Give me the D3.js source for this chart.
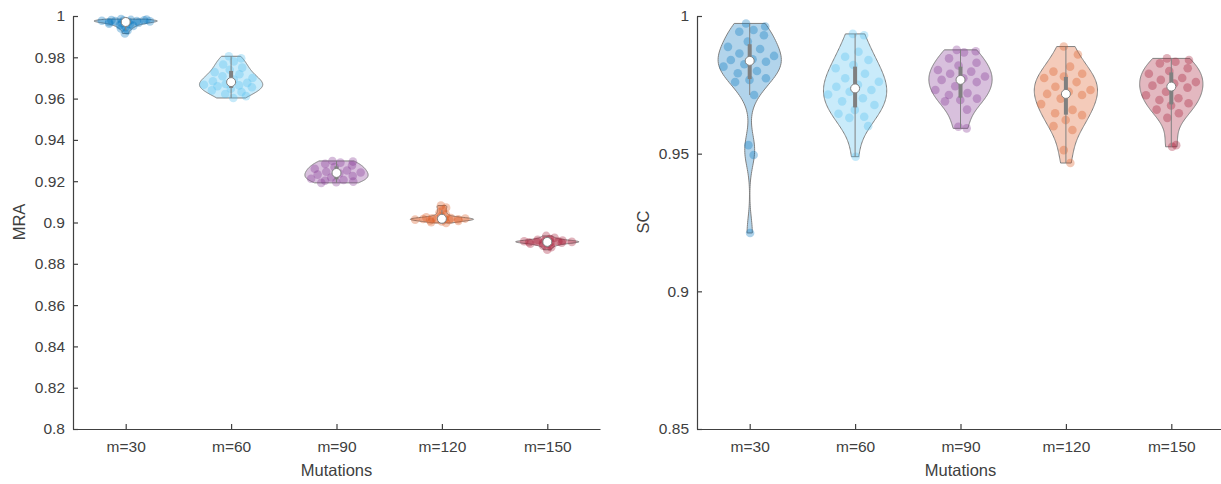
<!DOCTYPE html>
<html>
<head>
<meta charset="utf-8" />
<title>Violin plots</title>
<script src="https://d3js.org/d3.v7.min.js"></script>
<style type="text/css">
body { margin: 0; background: #fff; }
svg text { font-family: "Liberation Sans", Arial, sans-serif; fill: #404040; }
.axis path, .axis line { stroke: #404040; stroke-width: 1.2; }
.axis text { font-size: 15.5px; }
</style>
</head>
<body>
<div id="svg"></div>
<script type="text/javascript">
var width = 1221,
    height = 484;

var categories = ["m=30", "m=60", "m=90", "m=120", "m=150"];

// MRA per mutation count
var mra30 = [0.9985, 0.9983, 0.9981, 0.9980, 0.9979, 0.9978, 0.9977, 0.9976, 0.9975, 0.9974, 0.9972,
             0.9970, 0.9968, 0.9966, 0.9963, 0.9960, 0.9956, 0.9952, 0.9946, 0.9940, 0.9930, 0.9915];
var mra60 = [0.9805, 0.9795, 0.9780, 0.9765, 0.9750, 0.9740, 0.9728, 0.9718, 0.9708, 0.9700, 0.9692, 0.9684,
             0.9676, 0.9671, 0.9667, 0.9664, 0.9660, 0.9655, 0.9648, 0.9640, 0.9632, 0.9622, 0.9612, 0.9603];
var mra90 = [0.9298, 0.9295, 0.9290, 0.9284, 0.9276, 0.9268, 0.9260, 0.9252, 0.9246, 0.9242, 0.9238,
             0.9232, 0.9225, 0.9218, 0.9212, 0.9206, 0.9202, 0.9198, 0.9195, 0.9192];
var mra120 = [0.9082, 0.9072, 0.9060, 0.9048, 0.9038, 0.9030, 0.9025, 0.9022, 0.9020, 0.9019, 0.9018,
              0.9017, 0.9016, 0.9015, 0.9014, 0.9012, 0.9010, 0.9008, 0.9005, 0.9002, 0.8998];
var mra150 = [0.8935, 0.8926, 0.8920, 0.8916, 0.8913, 0.8911, 0.8909, 0.8908, 0.8907, 0.8906,
              0.8905, 0.8904, 0.8902, 0.8900, 0.8897, 0.8893, 0.8888, 0.8880, 0.8868];

// SC per mutation count
var sc30 = [0.9973, 0.9962, 0.9949, 0.9943, 0.9930, 0.9907, 0.9888, 0.9880, 0.9864, 0.9855, 0.9843, 0.9840,
            0.9834, 0.9825, 0.9816, 0.9800, 0.9792, 0.9774, 0.9768, 0.9760, 0.9713, 0.9531, 0.9495, 0.9212];
var sc60 = [0.9935, 0.9930, 0.9870, 0.9852, 0.9840, 0.9822, 0.9810, 0.9790, 0.9774, 0.9761, 0.9750, 0.9743,
            0.9731, 0.9725, 0.9715, 0.9701, 0.9690, 0.9677, 0.9659, 0.9645, 0.9634, 0.9630, 0.9600, 0.9489];
var sc90 = [0.9877, 0.9872, 0.9868, 0.9846, 0.9830, 0.9820, 0.9804, 0.9798, 0.9790, 0.9780, 0.9774, 0.9768,
            0.9760, 0.9745, 0.9731, 0.9720, 0.9713, 0.9700, 0.9695, 0.9690, 0.9660, 0.9598, 0.9592];
var sc120 = [0.9889, 0.9860, 0.9816, 0.9798, 0.9790, 0.9780, 0.9775, 0.9760, 0.9743, 0.9731, 0.9725, 0.9717,
             0.9713, 0.9700, 0.9680, 0.9659, 0.9647, 0.9640, 0.9622, 0.9600, 0.9586, 0.9513, 0.9466];
var sc150 = [0.9846, 0.9840, 0.9834, 0.9828, 0.9810, 0.9800, 0.9790, 0.9775, 0.9768, 0.9760, 0.9755, 0.9747,
             0.9740, 0.9725, 0.9712, 0.9701, 0.9695, 0.9683, 0.9675, 0.9660, 0.9647, 0.9630, 0.9531, 0.9525];

var mraTicks = [0.8, 0.82, 0.84, 0.86, 0.88, 0.9, 0.92, 0.94, 0.96, 0.98, 1];
var scTicks = [0.85, 0.9, 0.95, 1];

var colors = ["#0072BD", "#4DBEEE", "#7E2F8E", "#D95319", "#A2142F"];

var svg = d3.select("#svg")
    .append("svg")
    .attr("width", width)
    .attr("height", height);

// matlab style quantile
function quant(sorted, p) {
    var n = sorted.length;
    var pos = n * p + 0.5;
    if (pos <= 1) return sorted[0];
    if (pos >= n) return sorted[n - 1];
    var lo = Math.floor(pos);
    return sorted[lo - 1] + (pos - lo) * (sorted[lo] - sorted[lo - 1]);
}

function kde(vals) {
    var med = d3.median(vals);
    var mad = d3.median(vals, v => Math.abs(v - med));
    var bw = mad / 0.6745 * Math.pow(4 / (3 * vals.length), 0.2);
    return function(x) {
        return d3.sum(vals, v => Math.exp(-0.5 * Math.pow((x - v) / bw, 2)));
    };
}

function panel(groups, yDomain, ticks, left, yLabel) {
    var x = d3.scaleLinear().domain([0.5, 5.5]).range([left, left + 527]);
    var y = d3.scaleLinear().domain(yDomain).range([429, 16]);
    var g = svg.append("g");
    var halfW = 0.3;

    groups.forEach(function(vals, i) {
        var pos = i + 1;
        var sorted = vals.slice().sort(d3.ascending);
        var lo = sorted[0], hi = sorted[sorted.length - 1];
        var f = kde(vals);
        var grid = d3.range(100).map(k => lo + (hi - lo) * k / 99);
        var dens = grid.map(f);
        var dmax = d3.max(dens);

        var area = d3.area()
            .y((d, k) => y(grid[k]))
            .x0(d => x(pos - halfW * d / dmax))
            .x1(d => x(pos + halfW * d / dmax));

        g.append("path")
            .attr("d", area(dens) + "Z")
            .attr("fill", colors[i])
            .attr("fill-opacity", 0.3)
            .attr("stroke", "#808080")
            .attr("stroke-width", 1);

        // deterministic jitter inside the violin
        g.selectAll(null)
            .data(vals)
            .enter()
            .append("circle")
            .attr("cx", (v, k) => {
                var j = ((k * 0.6180339887 + 0.37) % 1) * 2 - 1;
                return x(pos + j * halfW * f(v) / dmax * 0.9);
            })
            .attr("cy", v => y(v))
            .attr("r", 4.3)
            .attr("fill", colors[i])
            .attr("fill-opacity", 0.32);

        var q1 = quant(sorted, 0.25), q3 = quant(sorted, 0.75), md = quant(sorted, 0.5);
        var iqr = q3 - q1;
        var wLo = d3.min(sorted.filter(v => v >= q1 - 1.5 * iqr));
        var wHi = d3.max(sorted.filter(v => v <= q3 + 1.5 * iqr));

        g.append("line")
            .attr("x1", x(pos)).attr("x2", x(pos))
            .attr("y1", y(wLo)).attr("y2", y(wHi))
            .attr("stroke", "#808080")
            .attr("stroke-width", 1);

        g.append("rect")
            .attr("x", x(pos) - 2)
            .attr("width", 4)
            .attr("y", y(q3))
            .attr("height", y(q1) - y(q3))
            .attr("fill", "#808080");

        g.append("circle")
            .attr("cx", x(pos))
            .attr("cy", y(md))
            .attr("r", 4.5)
            .attr("fill", "#fff")
            .attr("stroke", "#808080")
            .attr("stroke-width", 1);
    });

    var xAxis = d3.axisBottom(x)
        .tickValues([1, 2, 3, 4, 5])
        .tickFormat(d => categories[d - 1])
        .tickSizeInner(-5)
        .tickSizeOuter(0)
        .tickPadding(12);

    var yAxis = d3.axisLeft(y)
        .tickValues(ticks)
        .tickFormat(d3.format("~g"))
        .tickSizeInner(-5)
        .tickSizeOuter(0)
        .tickPadding(8);

    svg.append("g")
        .attr("class", "axis")
        .attr("transform", "translate(0,429)")
        .call(xAxis);

    svg.append("g")
        .attr("class", "axis")
        .attr("transform", "translate(" + left + ",0)")
        .call(yAxis);

    svg.append("text")
        .attr("x", (left + left + 527) / 2)
        .attr("y", 476)
        .attr("text-anchor", "middle")
        .attr("font-size", "16.5px")
        .text("Mutations");

    svg.append("text")
        .attr("transform", "translate(" + (left - 48) + ",222) rotate(-90)")
        .attr("text-anchor", "middle")
        .attr("font-size", "16.5px")
        .text(yLabel);
}

panel([mra30, mra60, mra90, mra120, mra150], [0.8, 1], mraTicks, 73, "MRA");
panel([sc30, sc60, sc90, sc120, sc150], [0.85, 1], scTicks, 697, "SC");
</script>
</body>
</html>
